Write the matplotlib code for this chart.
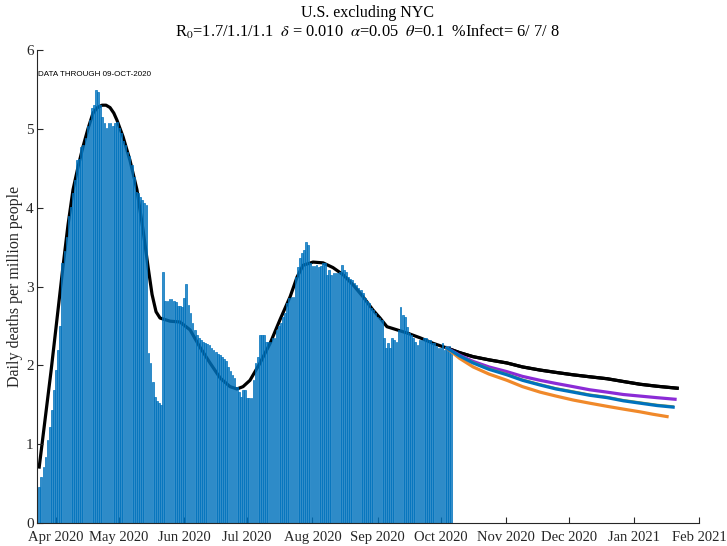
import numpy as np
import matplotlib
matplotlib.use("Agg")
import matplotlib.pyplot as plt
import matplotlib.dates as mdates

# ---------------- data ----------------
bar_start = "2020-03-24"
daily_deaths = [
    0.46, 0.58, 0.71, 0.84, 1.05, 1.22, 1.43, 1.69, 1.94, 2.20,
    2.50, 3.30, 3.45, 3.63, 3.90, 4.01, 4.19, 4.35, 4.60, 4.62,
    4.77, 4.80, 4.88, 5.03, 5.11, 5.26, 5.30, 5.49, 5.47, 5.30,
    5.15, 5.07, 5.01, 5.07, 5.07, 5.03, 5.07, 5.09, 5.01, 4.95,
    4.84, 4.80, 4.71, 4.65, 4.54, 4.39, 4.20, 4.19, 4.14, 4.10,
    4.06, 4.03, 2.16, 2.03, 1.79, 1.60, 1.55, 1.52, 1.50, 3.18,
    2.82, 2.82, 2.84, 2.84, 2.82, 2.80, 2.75, 2.75, 2.74, 2.85,
    3.03, 2.77, 2.66, 2.54, 2.45, 2.38, 2.35, 2.32, 2.30, 2.28,
    2.27, 2.26, 2.22, 2.19, 2.17, 2.15, 2.13, 2.10, 2.08, 2.05,
    1.98, 1.93, 1.88, 1.84, 1.72, 1.66, 1.60, 1.69, 1.69, 1.59,
    1.59, 1.59, 1.81, 2.03, 2.11, 2.38, 2.38, 2.38, 2.30, 2.30,
    2.30, 2.35, 2.35, 2.45, 2.50, 2.54, 2.61, 2.66, 2.79, 2.86,
    2.87, 2.87, 3.12, 3.25, 3.36, 3.42, 3.46, 3.57, 3.53, 3.30,
    3.26, 3.26, 3.27, 3.25, 3.26, 3.30, 3.30, 3.15, 3.21, 3.15,
    3.17, 3.17, 3.17, 3.19, 3.27, 3.21, 3.19, 3.12, 3.10, 3.08,
    3.05, 3.02, 2.98, 2.95, 2.92, 2.86, 2.82, 2.79, 2.73, 2.70,
    2.66, 2.61, 2.60, 2.58, 2.35, 2.22, 2.28, 2.22, 2.35, 2.32,
    2.30, 2.45, 2.74, 2.64, 2.61, 2.49, 2.41, 2.39, 2.35, 2.30,
    2.26, 2.32, 2.32, 2.35, 2.35, 2.32, 2.32, 2.28, 2.28, 2.24,
    2.22, 2.22, 2.28, 2.20, 2.20, 2.25, 2.16,
]

# model fit (days after 2020-03-24, value)
fit_days = [0, 5.6, 11.3, 13.7, 16.1, 18.5, 20.8, 23.2, 25.6, 27.7, 29.9, 31.8,
            33.7, 35.5, 37.0, 39.9, 43.2, 46.5, 49.4, 51.8, 53.7, 55.6, 57.5,
            62.3, 67.0, 71.8, 76.5, 81.3, 86.1, 90.8, 94.1, 97.0, 100.3, 105.1,
            109.9, 114.6, 119.4, 122.7, 125.6, 130.3, 135.1, 139.8, 144.6,
            149.4, 154.1, 158.9, 162.2, 165.5, 170.3, 175.1, 181.2, 187.4,
            194.0, 200.2, 206.5, 214.0, 222.6, 230.0, 238.4, 246.0, 254.1,
            262.0, 270.3, 278.0, 286.0, 294.0, 303.6]
fit_vals = [0.71, 1.92, 3.25, 3.78, 4.23, 4.52, 4.77, 5.00, 5.20, 5.27, 5.30, 5.30,
            5.27, 5.20, 5.11, 4.90, 4.60, 4.23, 3.72, 3.25, 2.90, 2.68, 2.60,
            2.56, 2.55, 2.45, 2.23, 2.03, 1.84, 1.73, 1.70, 1.73, 1.81, 2.03,
            2.28, 2.58, 2.87, 3.12, 3.27, 3.31, 3.30, 3.24, 3.15,
            3.02, 2.87, 2.70, 2.60, 2.49, 2.45, 2.41, 2.35, 2.28,
            2.22, 2.16, 2.11, 2.07, 2.03, 1.98, 1.94, 1.91, 1.88,
            1.855, 1.83, 1.795, 1.76, 1.735, 1.71]

proj_days = [194.0, 200.0, 206.5, 214.0, 222.6, 230.0, 238.4, 246.0, 254.1,
             262.0, 270.3, 278.0, 286.0, 294.0]
purple_vals = [2.22, 2.13, 2.05, 1.98, 1.92, 1.86, 1.81, 1.77, 1.73,
               1.69, 1.66, 1.63, 1.61, 1.59]
purple_end = (302.6, 1.57)
blue_vals = [2.22, 2.12, 2.03, 1.95, 1.88, 1.81, 1.75, 1.70, 1.66,
             1.62, 1.59, 1.55, 1.52, 1.49]
blue_end = (301.7, 1.47)
olive_vals = [2.22, 2.13, 2.045, 1.965, 1.895, 1.825, 1.765, 1.715, 1.675,
              1.635, 1.605, 1.565, 1.535, 1.505]
olive_end = (301.7, 1.485)
orange_days = [194.0, 200.0, 206.5, 214.0, 222.6, 230.0, 238.4, 246.0, 254.1,
               262.0, 270.3, 278.0, 286.0, 292.0, 298.8]
orange_vals = [2.22, 2.09, 1.98, 1.89, 1.81, 1.73, 1.66, 1.61, 1.56,
               1.52, 1.48, 1.445, 1.41, 1.38, 1.35]

month_ticks = ["2020-04-01", "2020-05-01", "2020-06-01", "2020-07-01", "2020-08-01",
               "2020-09-01", "2020-10-01", "2020-11-01", "2020-12-01",
               "2021-01-01", "2021-02-01"]
title1 = "U.S. excluding NYC"
title2 = r"R$_0$=1.7/1.1/1.1  $\delta$ = 0.010  $\alpha$=0.05  $\theta$=0.1  %Infect= 6/ 7/ 8"
note = "DATA THROUGH 09-OCT-2020"
ylabel = "Daily deaths per million people"

# ---------------- plot ----------------
plt.rcParams['font.family'] = ['Liberation Serif', 'DejaVu Serif']
plt.rcParams['mathtext.fontset'] = 'stix'

fig = plt.figure(figsize=(7.27, 5.46), dpi=100)
ax = fig.add_axes([0.0509, 0.0421, 0.9106, 0.8663])

base = mdates.date2num(np.datetime64(bar_start))
bar_x = base + np.arange(len(daily_deaths))


def to_x(days):
    return base + np.asarray(days, dtype=float)


ax.plot(to_x(fit_days), fit_vals, color='black', lw=2.3, zorder=1)
ax.bar(bar_x, daily_deaths, width=0.8, facecolor=(0, 0.447, 0.741, 0.8),
       edgecolor=(0, 0.447, 0.741, 1.0), linewidth=0.5, zorder=2)
ax.plot(to_x(fit_days[52:]), fit_vals[52:], color='black', lw=2.3, zorder=3)
ax.plot(to_x(proj_days + [purple_end[0]]), purple_vals + [purple_end[1]],
        color='#8B2BD6', lw=2.3, zorder=4)
ax.plot(to_x(proj_days + [olive_end[0]]), olive_vals + [olive_end[1]],
        color='#9AA23A', lw=1.0, zorder=4)
ax.plot(to_x(proj_days + [blue_end[0]]), blue_vals + [blue_end[1]],
        color='#0072BD', lw=2.3, zorder=5)
ax.plot(to_x(orange_days), orange_vals, color='#F0892A', lw=2.3, zorder=4)

ax.set_ylim(0, 6)
ax.set_xlim(base - 1.05, mdates.date2num(np.datetime64("2021-02-01")))
ax.set_yticks(range(0, 7))
ax.set_xticks([mdates.date2num(np.datetime64(t)) for t in month_ticks])
ax.xaxis.set_major_formatter(mdates.DateFormatter('%b %Y'))

for s in ['top', 'right']:
    ax.spines[s].set_visible(False)
for s in ['left', 'bottom']:
    ax.spines[s].set_color('#262626')
    ax.spines[s].set_linewidth(0.8)
ax.tick_params(direction='in', length=4, width=0.8, color='#262626',
               labelcolor='#262626')
ax.tick_params(axis='x', labelsize=10.5, pad=5.5)
ax.tick_params(axis='y', labelsize=11, pad=2.5)

ax.set_ylabel(ylabel, fontsize=11.5, color='#262626')
ax.yaxis.set_label_coords(-0.0205, 0.5)
fig.text(0.506, 0.976, title1, ha='center', va='center', fontsize=11.5, color='black')
fig.text(0.506, 0.942, title2, ha='center', va='center', fontsize=11.8, color='black')
ax.text(0.002, 0.948, note, transform=ax.transAxes, fontsize=5.8,
        family=['Liberation Sans', 'DejaVu Sans'], ha='left', va='center')

fig.savefig("out.png", dpi=100)
